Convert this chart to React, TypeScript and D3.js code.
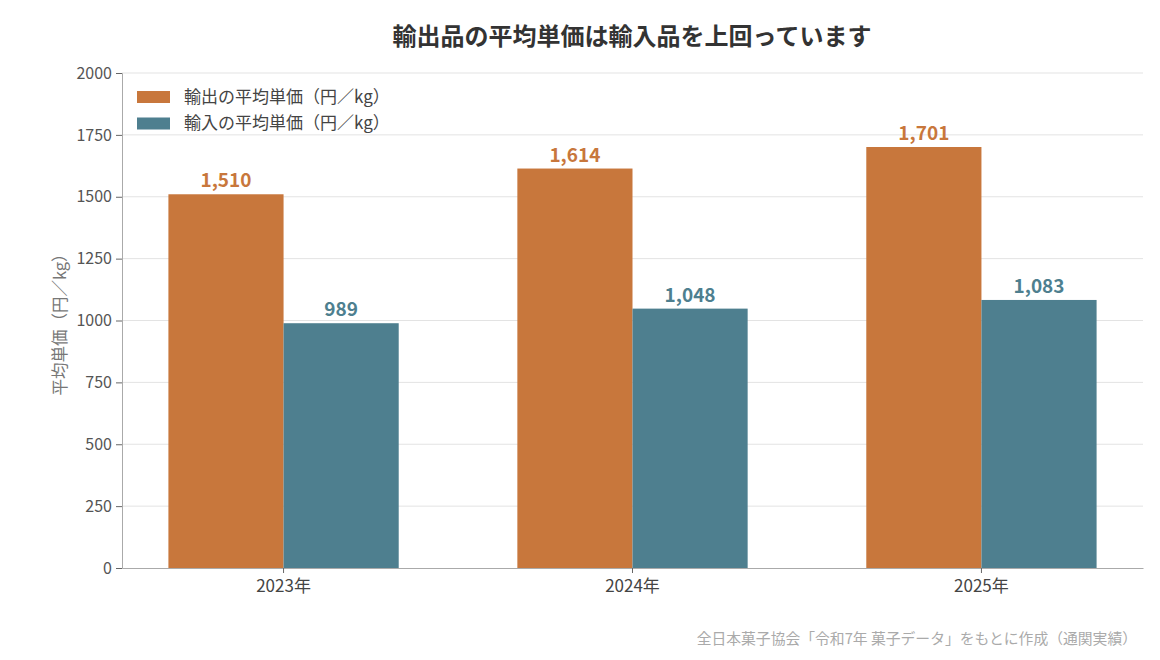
import { useEffect, useRef } from "react";
import * as d3 from "d3";

const years = ["2023年", "2024年", "2025年"];
const seriesNames = ["輸出の平均単価（円／kg）", "輸入の平均単価（円／kg）"];
const exportPrice = [1510, 1614, 1701];
const importPrice = [989, 1048, 1083];
const yTicks = [0, 250, 500, 750, 1000, 1250, 1500, 1750, 2000];
const colors = ["#C8773C", "#4E7F8F"];

const FONT = "'Noto Sans CJK JP', 'Noto Sans', sans-serif";

const App: React.FC = () => {
  const svgRef = useRef<SVGSVGElement>(null);

  useEffect(() => {
    document.body.style.margin = "0";
    if (!svgRef.current) return;
    const width = 1160;
    const height = 660;
    const margin = { top: 73, right: 17, bottom: 92, left: 122 };

    const svg = d3.select(svgRef.current);
    svg.selectAll("*").remove();

    const x = d3
      .scaleBand<string>()
      .domain(years)
      .range([margin.left, width - margin.right])
      .paddingInner(0.34)
      .paddingOuter(0.133);

    const x1 = d3
      .scaleBand<number>()
      .domain([0, 1])
      .range([0, x.bandwidth()]);

    const y = d3
      .scaleLinear()
      .domain([0, 2000])
      .range([height - margin.bottom, margin.top]);

    // grid
    svg
      .append("g")
      .selectAll("line")
      .data(yTicks.filter((d) => d > 0))
      .join("line")
      .attr("x1", margin.left)
      .attr("x2", width - margin.right)
      .attr("y1", (d) => y(d))
      .attr("y2", (d) => y(d))
      .attr("stroke", "#e3e3e3")
      .attr("stroke-width", 1);

    const data = years.map((yr, i) => ({
      year: yr,
      values: [exportPrice[i], importPrice[i]],
    }));

    const groups = svg
      .append("g")
      .selectAll("g")
      .data(data)
      .join("g")
      .attr("transform", (d) => `translate(${x(d.year)},0)`);

    groups
      .selectAll("rect")
      .data((d) => d.values.map((v, k) => ({ v, k })))
      .join("rect")
      .attr("x", (d) => x1(d.k)!)
      .attr("width", x1.bandwidth())
      .attr("y", (d) => y(d.v))
      .attr("height", (d) => y(0) - y(d.v))
      .attr("fill", (d) => colors[d.k]);

    groups
      .selectAll("text")
      .data((d) => d.values.map((v, k) => ({ v, k })))
      .join("text")
      .attr("x", (d) => x1(d.k)! + x1.bandwidth() / 2)
      .attr("y", (d) => y(d.v) - 7)
      .attr("text-anchor", "middle")
      .attr("font-family", FONT)
      .attr("font-weight", "bold")
      .attr("font-size", 19)
      .attr("fill", (d) => colors[d.k])
      .text((d) => d3.format(",")(d.v));

    // y axis
    const yAxis = svg
      .append("g")
      .attr("transform", `translate(${margin.left},0)`)
      .call(d3.axisLeft(y).tickValues(yTicks).tickSize(6).tickPadding(4).tickFormat(d3.format("d")));
    yAxis.select(".domain").attr("stroke", "#aaa");
    yAxis.selectAll(".tick line").attr("stroke", "#666");
    yAxis
      .selectAll(".tick text")
      .attr("font-family", FONT)
      .attr("font-size", 16)
      .attr("fill", "#555");

    // x axis
    const xAxis = svg
      .append("g")
      .attr("transform", `translate(0,${y(0)})`)
      .call(d3.axisBottom(x).tickSize(5).tickPadding(7).tickSizeOuter(0));
    xAxis.select(".domain").attr("stroke", "#aaa");
    xAxis.selectAll(".tick line").attr("stroke", "#666");
    xAxis
      .selectAll(".tick text")
      .attr("font-family", FONT)
      .attr("font-size", 17)
      .attr("fill", "#444");

    // y label
    svg
      .append("text")
      .attr("transform", `translate(66,${(margin.top + y(0)) / 2}) rotate(-90)`)
      .attr("text-anchor", "middle")
      .attr("font-family", FONT)
      .attr("font-size", 16.5)
      .attr("fill", "#777")
      .text("平均単価（円／kg）");

    // legend
    const legend = svg
      .append("g")
      .selectAll("g")
      .data(seriesNames)
      .join("g")
      .attr("transform", (_, i) => `translate(137,${91 + i * 26.5})`);
    legend
      .append("rect")
      .attr("width", 33)
      .attr("height", 12)
      .attr("fill", (_, i) => colors[i]);
    legend
      .append("text")
      .attr("x", 47)
      .attr("y", 6)
      .attr("dy", "0.35em")
      .attr("font-family", FONT)
      .attr("font-size", 17)
      .attr("fill", "#444")
      .text((d) => d);

    // title
    svg
      .append("text")
      .attr("x", 632)
      .attr("y", 45)
      .attr("text-anchor", "middle")
      .attr("font-family", FONT)
      .attr("font-weight", "bold")
      .attr("font-size", 24)
      .attr("fill", "#333")
      .text("輸出品の平均単価は輸入品を上回っています");

    // source
    svg
      .append("text")
      .attr("x", 1137)
      .attr("y", 644)
      .attr("text-anchor", "end")
      .attr("font-family", FONT)
      .attr("font-size", 14.8)
      .attr("fill", "#aaa")
      .text("全日本菓子協会「令和7年 菓子データ」をもとに作成（通関実績）");
  }, []);

  return <svg ref={svgRef} width={1160} height={660} style={{ display: "block" }} />;
};

export default App;
